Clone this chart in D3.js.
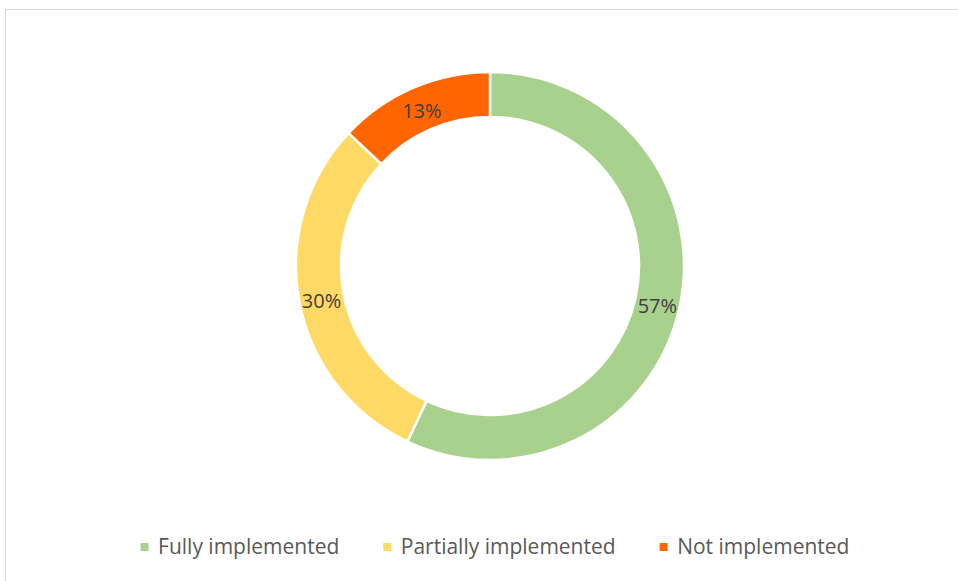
<!DOCTYPE html>
<html>
<head>
<meta charset="utf-8">
<script src="https://cdn.jsdelivr.net/npm/d3@7"></script>
<style>
  html, body { margin: 0; padding: 0; background: #fff; }
  svg { display: block; }
</style>
</head>
<body>
<svg id="chart" width="958" height="581"></svg>
<script>
const categories = ["Fully implemented", "Partially implemented", "Not implemented"];
const values = [57, 30, 13];
const colors = ["#A9D18E", "#FFD966", "#FF6600"];

const W = 958, H = 581;
const svg = d3.select("#chart");
const FONT = "'Open Sans', 'Noto Sans', sans-serif";

// chart area border (extends beyond the right/bottom edges)
svg.append("rect")
  .attr("x", 5.5).attr("y", 9.5)
  .attr("width", 1000).attr("height", 1000)
  .attr("fill", "none").attr("stroke", "#d9d9d9").attr("stroke-width", 1);

const cx = 490, cy = 266, rOuter = 194, rInner = 149;

const pie = d3.pie().sort(null).value(d => d.value);
const data = categories.map((c, i) => ({ name: c, value: values[i], color: colors[i] }));
const arcs = pie(data);
const total = d3.sum(values);

const arc = d3.arc().innerRadius(rInner).outerRadius(rOuter);

const g = svg.append("g").attr("transform", `translate(${cx},${cy})`);

g.selectAll("path.slice")
  .data(arcs)
  .join("path")
  .attr("class", "slice")
  .attr("d", arc)
  .attr("fill", d => d.data.color)
  .attr("stroke", "#fff")
  .attr("stroke-width", 2.5)
  .attr("stroke-linejoin", "miter");

g.selectAll("text.lbl")
  .data(arcs)
  .join("text")
  .attr("class", "lbl")
  .attr("transform", d => { const [x, y] = arc.centroid(d); return `translate(${x},${y + 2})`; })
  .attr("text-anchor", "middle")
  .attr("dominant-baseline", "central")
  .attr("font-family", FONT)
  .attr("font-size", 20)
  .attr("fill", "#404040")
  .text(d => d3.format(".0%")(d.data.value / total));

// legend
const legend = svg.append("g");
const items = legend.selectAll("g.item").data(data).join("g").attr("class", "item");
items.append("rect")
  .attr("width", 8).attr("height", 8)
  .attr("y", 543)
  .attr("fill", d => d.color);
items.append("text")
  .attr("x", 17.5)
  .attr("y", 554)
  .attr("font-family", FONT)
  .attr("font-size", 21)
  .attr("fill", "#595959")
  .text(d => d.name);

const gap = 44;
let widths = [];
items.each(function () {
  widths.push(17.5 + d3.select(this).select("text").node().getComputedTextLength());
});
const totalW = d3.sum(widths) + gap * (widths.length - 1);
let x0 = 495 - totalW / 2;
items.attr("transform", (d, i) => {
  const x = x0;
  x0 += widths[i] + gap;
  return `translate(${x},0)`;
});
</script>
</body>
</html>
